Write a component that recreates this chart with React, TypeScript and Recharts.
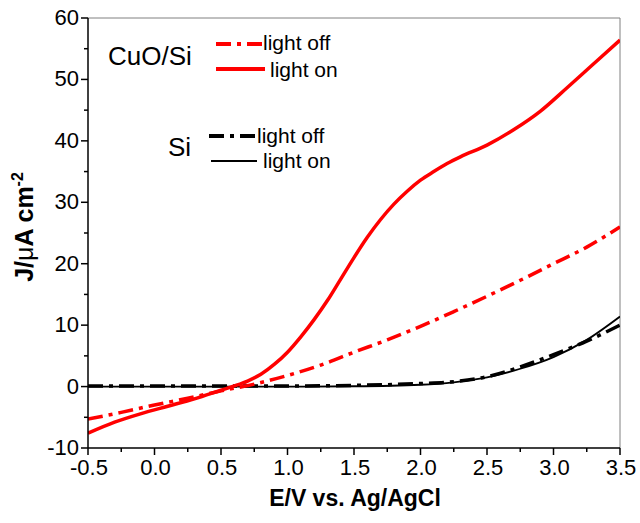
import { LineChart, Line, XAxis, YAxis, ReferenceLine } from 'recharts';

// CuO/Si, light on (solid red)
const cuoOnE = [-0.5, -0.3, -0.1, 0.1, 0.3, 0.5, 0.6, 0.7, 0.8, 0.9, 1.0, 1.1, 1.2, 1.3, 1.4, 1.5, 1.6, 1.7, 1.8, 1.9, 2.0, 2.1, 2.2, 2.3, 2.5, 2.7, 2.9, 3.1, 3.3, 3.5];
const cuoOnJ = [-7.6, -5.8, -4.4, -3.2, -2.0, -0.6, 0.1, 0.9, 2.0, 3.6, 5.6, 8.1, 10.9, 14.0, 17.5, 21.0, 24.3, 27.2, 29.7, 31.8, 33.6, 35.0, 36.3, 37.4, 39.3, 41.8, 44.8, 48.6, 52.5, 56.4];

// CuO/Si, light off (red dash-dot)
const cuoOffE = [-0.5, -0.25, 0.0, 0.25, 0.5, 0.75, 1.0, 1.25, 1.5, 1.75, 2.0, 2.25, 2.5, 2.75, 3.0, 3.25, 3.5];
const cuoOffJ = [-5.3, -4.2, -3.0, -1.9, -0.7, 0.4, 1.8, 3.5, 5.6, 7.6, 9.8, 12.2, 14.7, 17.3, 20.0, 22.7, 26.0];

// Si, light on (thin black)
const siOnE = [-0.5, 0.0, 0.5, 1.0, 1.5, 2.0, 2.25, 2.5, 2.75, 3.0, 3.25, 3.5];
const siOnJ = [0.0, 0.0, 0.0, 0.0, 0.05, 0.3, 0.7, 1.5, 2.9, 4.8, 7.6, 11.4];

// Si, light off (black dash-dot)
const siOffE = [-0.5, 0.0, 0.5, 1.0, 1.5, 2.0, 2.25, 2.5, 2.75, 3.0, 3.25, 3.5];
const siOffJ = [0.1, 0.1, 0.1, 0.1, 0.2, 0.5, 0.8, 1.6, 3.2, 5.2, 7.4, 10.0];

const xTicks = [-0.5, -0.25, 0, 0.25, 0.5, 0.75, 1, 1.25, 1.5, 1.75, 2, 2.25, 2.5, 2.75, 3, 3.25, 3.5];
const yTicks = [-10, -5, 0, 5, 10, 15, 20, 25, 30, 35, 40, 45, 50, 55, 60];

const FONT = '"Liberation Sans", Arial, sans-serif';
const DASH_DOT = '15 6 4 6';

const toPoints = (e: number[], j: number[]) => e.map((x, i) => ({ e: x, j: j[i] }));

const XTick = ({ x, y, payload }: any) => {
  const v = payload.value;
  const major = Math.abs(v * 2 - Math.round(v * 2)) < 1e-6;
  return (
    <g>
      <line x1={x} y1={y} x2={x} y2={y + (major ? 7 : 4)} stroke="#000" strokeWidth={1.5} />
      {major && (
        <text x={x + 1} y={y + 27} textAnchor="middle" fontSize={22} fontFamily={FONT} fill="#000">
          {v.toFixed(1)}
        </text>
      )}
    </g>
  );
};

const YTick = ({ x, y, payload }: any) => {
  const v = payload.value;
  const major = v % 10 === 0;
  return (
    <g>
      <line x1={x} y1={y} x2={x - (major ? 7 : 4)} y2={y} stroke="#000" strokeWidth={1.5} />
      {major && (
        <text x={x - 9} y={y + 7} textAnchor="end" fontSize={22} fontFamily={FONT} fill="#000">
          {v}
        </text>
      )}
    </g>
  );
};

export default function App() {
  return (
    <div style={{ position: 'absolute', left: 0, top: 0, width: 640, height: 523, background: '#fff' }}>
      <LineChart width={640} height={523} margin={{ top: 18, right: 20, bottom: 0, left: 0 }}>
        <XAxis
          dataKey="e"
          type="number"
          domain={[-0.5, 3.5]}
          ticks={xTicks}
          interval={0}
          height={75}
          tickSize={0}
          tickMargin={0}
          tickLine={false}
          tick={<XTick />}
          axisLine={{ stroke: '#000', strokeWidth: 1.5 }}
          allowDataOverflow
        />
        <YAxis
          type="number"
          domain={[-10, 60]}
          ticks={yTicks}
          interval={0}
          width={88}
          tickSize={0}
          tickMargin={0}
          tickLine={false}
          tick={<YTick />}
          axisLine={{ stroke: '#000', strokeWidth: 1.5 }}
          allowDataOverflow
        />
        <ReferenceLine y={60} stroke="#808080" strokeWidth={1} />
        <ReferenceLine x={3.5} stroke="#808080" strokeWidth={1} />
        <Line data={toPoints(siOffE, siOffJ)} dataKey="j" type="monotone" stroke="#000" strokeWidth={3.5} strokeDasharray={DASH_DOT} dot={false} isAnimationActive={false} />
        <Line data={toPoints(siOnE, siOnJ)} dataKey="j" type="monotone" stroke="#000" strokeWidth={1.8} dot={false} isAnimationActive={false} />
        <Line data={toPoints(cuoOffE, cuoOffJ)} dataKey="j" type="monotone" stroke="#ff0000" strokeWidth={3.5} strokeDasharray={DASH_DOT} dot={false} isAnimationActive={false} />
        <Line data={toPoints(cuoOnE, cuoOnJ)} dataKey="j" type="monotone" stroke="#ff0000" strokeWidth={3.5} dot={false} isAnimationActive={false} />
      </LineChart>
      <svg width={640} height={523} style={{ position: 'absolute', left: 0, top: 0, pointerEvents: 'none' }} fontFamily={FONT}>
        {/* axis titles */}
        <text x={355} y={506} textAnchor="middle" fontSize={23} fontWeight="bold">E/V vs. Ag/AgCl</text>
        <text transform="translate(33,227) rotate(-90)" textAnchor="middle" fontSize={25} fontWeight="bold">
          J/<tspan fontWeight="normal">μ</tspan>A cm<tspan dy={-10} fontSize={16}>-2</tspan>
        </text>
        {/* legend */}
        <text x={108} y={65} fontSize={26}>CuO/Si</text>
        <line x1={216} y1={44} x2={263} y2={44} stroke="#ff0000" strokeWidth={4} strokeDasharray={DASH_DOT} />
        <text x={263} y={50} fontSize={21}>light off</text>
        <line x1={216} y1={69} x2={265} y2={69} stroke="#ff0000" strokeWidth={4} />
        <text x={270} y={77} fontSize={21}>light on</text>
        <text x={168} y={156} fontSize={26}>Si</text>
        <line x1={209} y1={136} x2={257} y2={136} stroke="#000" strokeWidth={4} strokeDasharray={DASH_DOT} />
        <text x={257} y={143} fontSize={21}>light off</text>
        <line x1={211} y1={161} x2={257} y2={161} stroke="#000" strokeWidth={2} />
        <text x={263} y={168} fontSize={21}>light on</text>
      </svg>
    </div>
  );
}
